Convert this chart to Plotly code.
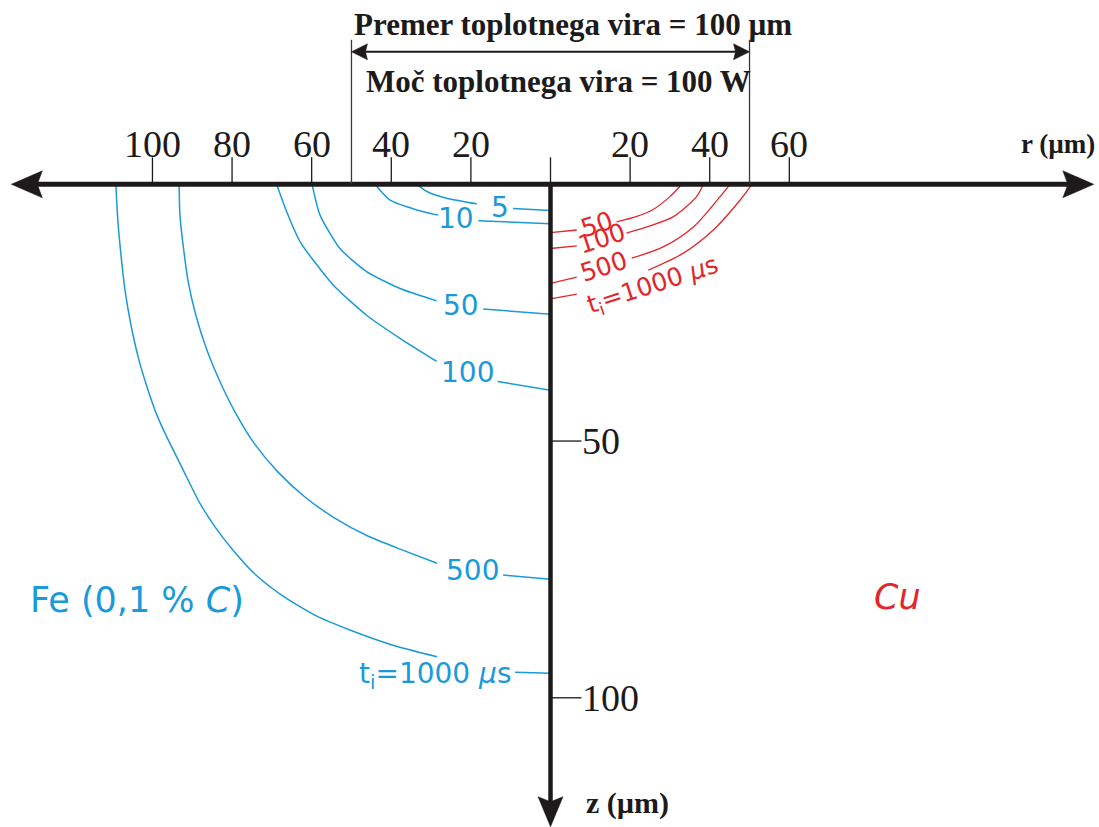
import plotly.graph_objects as go

# ---- canvas and scales -------------------------------------------------
W, H = 1099, 827
R_RANGE = [-138.3, 137.8]      # radial distance r (µm); the left half is drawn as negative r
Z_RANGE = [125.16, -35.89]     # depth z (µm), growing downwards
PX_PER_R = W / (R_RANGE[1] - R_RANGE[0])
PX_PER_Z = H / (Z_RANGE[0] - Z_RANGE[1])

BLUE = "#1a9ad8"
RED = "#e2262c"
INK = "#1c1a1a"
SERIF = "Liberation Serif, Times New Roman, serif"
HAND = "DejaVu Sans, Noto Sans, sans-serif"

# ---- axis ticks ---------------------------------------------------------
r_ticks = [-100, -80, -60, -40, -20, 0, 20, 40, 60]
r_tick_labels = ["100", "80", "60", "40", "20", "", "20", "40", "60"]
z_ticks = [50, 100]
z_tick_labels = ["50", "100"]

source_diameter = 100   # µm
source_power = 100      # W

# ---- Fe (0,1 % C): isotherm fronts after time t_i (µs) -------------------
fe_labels = ["5", "10", "50", "100", "500", "t<sub>i</sub>=1000 <i>µ</i>s"]

fe_5_r = [-33.6, -30.8, -26.1, -18.5]
fe_5_z = [0.0, 1.5, 2.7, 3.8]
fe_10_r = [-44.1, -40.3, -33.6, -28.2]
fe_10_z = [0.0, 3.1, 5.0, 6.0]
fe_50_r = [-59.9, -57.9, -52.9, -46.2, -37.8, -28.6]
fe_50_z = [0.0, 6.0, 12.5, 17.0, 20.3, 22.7]
fe_100_r = [-68.8, -66.3, -62.9, -54.6, -46.2, -37.8, -28.6]
fe_100_z = [0.0, 5.3, 11.2, 19.6, 25.5, 30.0, 34.5]
fe_500_r = [-93.3, -93.1, -92.3, -91.1, -89.1, -86.3, -83.0, -79.0, -74.3,
            -68.5, -61.7, -54.2, -45.9, -37.3, -28.5]
fe_500_z = [0.0, 6.0, 11.8, 18.6, 25.5, 32.3, 38.5, 44.7, 50.6,
            56.0, 60.9, 65.0, 68.5, 71.2, 73.8]
fe_1000_r = [-109.2, -108.7, -107.9, -106.9, -105.4, -103.4, -101.1, -98.9, -96.4, -92.3,
             -88.1, -84.1, -79.8, -74.0, -67.2, -59.2, -50.4, -39.8, -28.5]
fe_1000_z = [0.0, 7.0, 13.8, 20.6, 27.4, 34.2, 40.1, 44.9, 49.2, 55.6,
             62.1, 66.9, 71.2, 76.1, 80.2, 83.9, 86.8, 89.7, 92.0]

# leader segments from each label to the z axis
fe_lead_r = [[-9.4, 0.0], [-18.1, 0.0], [-16.9, 0.0], [-13.3, 0.0], [-11.9, 0.0], [-8.9, 0.0]]
fe_lead_z = [[4.7, 5.1], [7.1, 7.7], [24.3, 25.3], [38.4, 40.1], [76.1, 76.9], [95.0, 95.2]]

# ---- Cu: isotherm fronts after time t_i (µs) ----------------------------
cu_labels = ["50", "100", "500", "t<sub>i</sub>=1000 <i>µ</i>s"]

cu_50_r = [33.0, 30.0, 25.8, 21.5, 16.6]
cu_50_z = [0.0, 2.4, 4.9, 6.3, 7.3]
cu_100_r = [38.4, 36.7, 30.9, 25.0, 19.1]
cu_100_z = [0.0, 2.4, 6.3, 8.1, 9.5]
cu_500_r = [45.1, 42.6, 35.9, 28.3, 20.4]
cu_500_z = [0.0, 2.4, 8.3, 12.2, 14.4]
cu_1000_r = [50.6, 47.6, 40.9, 33.4, 24.6]
cu_1000_z = [0.0, 3.1, 8.9, 13.4, 16.7]

cu_lead_r = [[6.6, 0.0], [6.6, 0.0], [6.6, 0.0], [6.6, 0.0]]
cu_lead_z = [[8.9, 9.4], [12.0, 12.5], [18.1, 19.3], [21.4, 22.3]]

fe_arcs = [(fe_5_r, fe_5_z), (fe_10_r, fe_10_z), (fe_50_r, fe_50_z),
           (fe_100_r, fe_100_z), (fe_500_r, fe_500_z), (fe_1000_r, fe_1000_z)]
cu_arcs = [(cu_50_r, cu_50_z), (cu_100_r, cu_100_z),
           (cu_500_r, cu_500_z), (cu_1000_r, cu_1000_z)]


def dr(px):
    return px / PX_PER_R


def dz(px):
    return px / PX_PER_Z


def arrow_path(tip_r, tip_z, ux, uy, length, half, notch=3.0):
    """Filled arrowhead; (ux, uy) is the pointing direction in screen pixels."""
    br, bz = tip_r - dr(ux * length), tip_z - dz(uy * length)
    nr, nz = tip_r - dr(ux * (length - notch)), tip_z - dz(uy * (length - notch))
    pr, pz = -uy, ux
    a = (br + dr(pr * half), bz + dz(pz * half))
    b = (br - dr(pr * half), bz - dz(pz * half))
    return (f"M {tip_r},{tip_z} L {a[0]},{a[1]} L {nr},{nz} "
            f"L {b[0]},{b[1]} Z")


fig = go.Figure()

# isotherm arcs and leaders
for (r, z), lr, lz in zip(fe_arcs, fe_lead_r, fe_lead_z):
    fig.add_trace(go.Scatter(x=r, y=z, mode="lines",
                             line=dict(color=BLUE, width=1.5, shape="spline", smoothing=0.6),
                             hoverinfo="skip", showlegend=False))
    fig.add_trace(go.Scatter(x=lr, y=lz, mode="lines", line=dict(color=BLUE, width=1.5),
                             hoverinfo="skip", showlegend=False))
for (r, z), lr, lz in zip(cu_arcs, cu_lead_r, cu_lead_z):
    fig.add_trace(go.Scatter(x=r, y=z, mode="lines",
                             line=dict(color=RED, width=1.3, shape="spline", smoothing=0.8),
                             hoverinfo="skip", showlegend=False))
    fig.add_trace(go.Scatter(x=lr, y=lz, mode="lines", line=dict(color=RED, width=1.3),
                             hoverinfo="skip", showlegend=False))

shapes = []
annotations = []

# main axes
r_left_tip, r_right_tip = -135.45, 136.5
z_bottom_tip = 125.1
shapes.append(dict(type="line", x0=r_left_tip + dr(20), x1=r_right_tip - dr(20), y0=0, y1=0,
                   line=dict(color=INK, width=5)))
shapes.append(dict(type="line", x0=0, x1=0, y0=0, y1=z_bottom_tip - dz(20),
                   line=dict(color=INK, width=4.5)))
for path in (arrow_path(r_left_tip, 0, -1, 0, 31, 13.5, 5),
             arrow_path(r_right_tip, 0, 1, 0, 31, 13.5, 5),
             arrow_path(0, z_bottom_tip, 0, 1, 30, 12.5, 5)):
    shapes.append(dict(type="path", path=path, fillcolor=INK, line=dict(color=INK, width=0.5)))

# r ticks and labels
for t, lab in zip(r_ticks, r_tick_labels):
    shapes.append(dict(type="line", x0=t, x1=t, y0=0, y1=-dz(27), line=dict(color=INK, width=1.3)))
    if lab:
        annotations.append(dict(x=t, y=0, text=lab, showarrow=False, yshift=40,
                                font=dict(family=SERIF, size=38, color=INK)))

# z ticks and labels
for t, lab in zip(z_ticks, z_tick_labels):
    shapes.append(dict(type="line", x0=0, x1=dr(31), y0=t, y1=t, line=dict(color=INK, width=1.3)))
    annotations.append(dict(x=dr(31), y=t, text=lab, showarrow=False, xanchor="left", xshift=-2,
                            font=dict(family=SERIF, size=38, color=INK)))

annotations.append(dict(x=0.998, xref="paper", y=0, text="<b>r (µm)</b>", showarrow=False,
                        xanchor="right", yshift=40, font=dict(family=SERIF, size=27, color=INK)))
annotations.append(dict(x=dr(33), y=z_bottom_tip, text="<b>z (µm)</b>", showarrow=False,
                        xanchor="left", yshift=24, font=dict(family=SERIF, size=30, color=INK)))

# heat source: diameter bracket and power
half_d = source_diameter / 2
z_bracket = -dz(132.5)
for edge in (-half_d, half_d):
    shapes.append(dict(type="line", x0=edge, x1=edge, y0=0, y1=z_bracket - dz(12),
                       line=dict(color="#3a3838", width=1.3)))
shapes.append(dict(type="line", x0=-half_d + dr(10), x1=half_d - dr(10), y0=z_bracket, y1=z_bracket,
                   line=dict(color=INK, width=2)))
for path in (arrow_path(-half_d, z_bracket, -1, 0, 16, 8, 2),
             arrow_path(half_d, z_bracket, 1, 0, 16, 8, 2)):
    shapes.append(dict(type="path", path=path, fillcolor=INK, line=dict(color=INK, width=0.5)))
annotations.append(dict(x=0, y=z_bracket, text=f"<b>Premer toplotnega vira = {source_diameter} µm</b>",
                        showarrow=False, yshift=27, xshift=22,
                        font=dict(family=SERIF, size=31, color=INK)))
annotations.append(dict(x=0, y=z_bracket, text=f"<b>Moč toplotnega vira = {source_power} W</b>",
                        showarrow=False, yshift=-30, xshift=8,
                        font=dict(family=SERIF, size=31, color=INK)))

# isotherm labels, right-aligned just before each leader
for i, ((r, z), lr, lz, lab) in enumerate(zip(fe_arcs, fe_lead_r, fe_lead_z, fe_labels)):
    last = i == len(fe_arcs) - 1
    annotations.append(dict(x=lr[0], y=lz[0] if last else (z[-1] + lz[0]) / 2, text=lab,
                            showarrow=False, xanchor="right", xshift=-2, yshift=-3 if last else -1,
                            font=dict(family=HAND, size=28, color=BLUE)))

for i, ((r, z), lr, lz, lab) in enumerate(zip(cu_arcs, cu_lead_r, cu_lead_z, cu_labels)):
    ann = dict(x=(r[-1] + lr[0]) / 2, y=(z[-1] + lz[0]) / 2, text=lab, showarrow=False, textangle=-18,
               font=dict(family=HAND, size=25, color=RED))
    if i == len(cu_arcs) - 1:
        ann.update(xshift=40, yshift=-4)
    else:
        ann.update(yshift=1)
    annotations.append(ann)

# material names
annotations.append(dict(x=-103.8, y=81.0, text="Fe (0,1 % <i>C</i>)", showarrow=False,
                        font=dict(family=HAND, size=35, color=BLUE)))
annotations.append(dict(x=87.3, y=80.4, text="<i>Cu</i>", showarrow=False,
                        font=dict(family=HAND, size=35, color=RED)))

fig.update_layout(
    width=W, height=H,
    margin=dict(l=0, r=0, t=0, b=0),
    paper_bgcolor="white", plot_bgcolor="white",
    xaxis=dict(range=R_RANGE, visible=False, fixedrange=True),
    yaxis=dict(range=Z_RANGE, visible=False, fixedrange=True),
    shapes=shapes, annotations=annotations,
    showlegend=False,
)

fig.write_html("out.html")
